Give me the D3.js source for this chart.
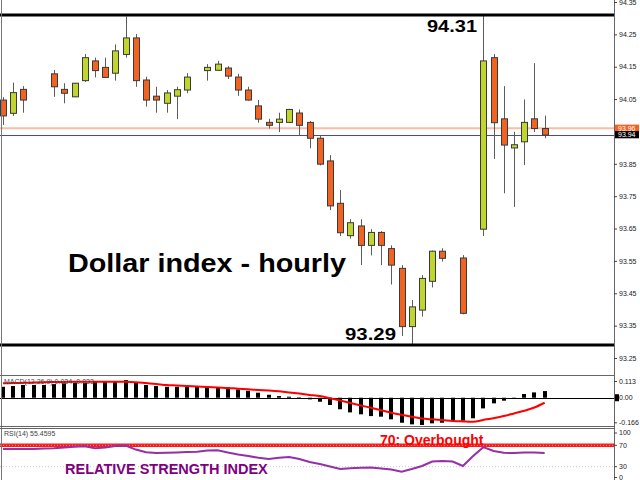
<!DOCTYPE html>
<html><head><meta charset="utf-8">
<script src="https://cdn.jsdelivr.net/npm/d3@7/dist/d3.min.js"></script>
<style>body{margin:0;background:#fff}svg{display:block}</style>
</head><body><svg id="c" width="640" height="480"></svg>
<script>
// ---- data (hourly candles, slot index 0..53; null = no candle drawn) ----
const opens  = [94.047,94.006,94.080,null,null,94.128,94.080,94.057,94.107,94.168,94.148,94.130,94.188,94.239,94.109,94.059,94.037,94.059,94.078,null,94.138,94.139,94.146,94.118,94.078,94.029,93.978,93.978,93.978,94.007,93.978,93.929,93.859,93.728,93.628,93.658,93.598,93.638,93.588,93.527,93.347,93.398,93.487,93.580,null,93.559,null,93.648,94.178,93.989,93.899,93.918,93.989,93.959];
const highs  = [94.056,94.101,94.090,null,null,94.140,94.099,94.100,94.189,94.178,94.178,94.219,94.305,94.251,94.119,94.088,94.078,94.088,94.130,null,94.158,94.168,94.152,94.128,94.088,94.047,93.989,94.008,94.020,94.018,93.982,93.939,93.877,93.769,93.679,93.679,93.648,93.642,93.598,93.537,93.429,93.506,93.582,93.589,null,93.568,null,94.310,94.189,94.090,93.949,94.049,94.161,93.999];
const lows   = [93.970,93.998,94.008,null,null,94.057,94.037,94.056,94.103,94.117,94.115,94.107,94.178,94.088,94.027,94.008,94.008,93.988,94.068,null,94.107,94.137,94.112,94.060,94.045,93.977,93.959,93.948,93.976,93.939,93.898,93.845,93.707,93.627,93.619,93.537,93.567,93.537,93.477,93.318,93.290,93.378,93.468,93.548,null,93.385,null,93.627,93.865,93.759,93.717,93.846,93.948,93.929];
const closes = [93.998,94.070,94.047,null,null,94.088,94.068,94.099,94.178,94.138,94.117,94.199,94.239,94.107,94.047,94.047,94.069,94.079,94.118,null,94.148,94.158,94.121,94.078,94.047,93.988,93.969,93.988,94.018,93.969,93.929,93.849,93.720,93.637,93.668,93.598,93.638,93.598,93.537,93.347,93.408,93.496,93.580,93.558,null,93.388,null,94.168,93.977,93.908,93.909,93.978,93.959,93.939];

const macdHist = [0.074,0.079,0.086,0.086,0.086,0.092,0.097,0.101,0.101,0.113,0.108,0.113,0.119,0.106,0.086,0.079,0.074,0.074,0.074,0.074,0.074,0.070,0.070,0.056,0.047,0.034,0.020,0.011,0.007,0.002,-0.011,-0.027,-0.049,-0.078,-0.099,-0.112,-0.124,-0.128,-0.146,-0.169,-0.180,-0.184,-0.173,-0.169,-0.162,-0.155,-0.139,-0.072,-0.038,-0.020,-0.003,0.025,0.036,0.045];
const macdSignal = [0.097,0.099,0.101,0.103,0.105,0.106,0.107,0.108,0.108,0.108,0.108,0.108,0.108,0.105,0.099,0.093,0.086,0.083,0.079,0.076,0.073,0.069,0.066,0.061,0.057,0.052,0.048,0.043,0.036,0.028,0.019,0.011,-0.004,-0.019,-0.035,-0.052,-0.068,-0.085,-0.101,-0.115,-0.128,-0.140,-0.146,-0.151,-0.157,-0.160,-0.162,-0.150,-0.138,-0.124,-0.106,-0.088,-0.066,-0.034];
const rsi = [63,63,63,63,64,64.6,66,67.2,68,64.4,66,68.7,69.6,62,57,55.6,56,56.7,57.5,58,60.3,60.8,56.5,52.8,50,46.6,44.4,46.6,48.1,44.4,38.8,35,30.4,25.7,27,28,28.5,26.6,24.8,20.7,25.7,31.3,39.7,40.7,39.7,31.3,50,66.5,59.3,56,55.6,56.5,56.4,55.46];

const priceTicks = [94.35,94.25,94.15,94.05,93.85,93.75,93.65,93.55,93.45,93.35,93.25];
const macdTicks = [0.113,0,-0.166];
const macdTickLabels = ["0.113","0.00","-0.166"];
const rsiTicks = [100,70,30,0];
const levels = {high:94.31, low:93.29, bid:93.96, last:93.94, rsiOver:70, rsiLow:30};

// ---- scales ----
const svg = d3.select("#c");
const AX = 614;
const n = opens.length;
const x = d3.scaleLinear().domain([0, n-1]).range([3, 544.66]);
const y = d3.scaleLinear().domain([93.25, 94.35]).range([358, 2]);
const ym = d3.scaleLinear().domain([-0.166, 0.113]).range([422.3, 381]);
const yr = d3.scaleLinear().domain([30, 70]).range([466.7, 445.3]);

const idx = d3.range(n);
const candles = idx.filter(i => opens[i] !== null);

// ---- main panel ----
const main = svg.append("g");
// current price lines
main.append("line").attr("x1",0).attr("x2",AX).attr("y1",y(levels.bid)).attr("y2",y(levels.bid))
  .attr("stroke","#fbbba6").attr("stroke-width",2);
main.append("line").attr("x1",0).attr("x2",AX).attr("y1",Math.round(y(levels.last))+0.5).attr("y2",Math.round(y(levels.last))+0.5)
  .attr("stroke","#4a4a8c").attr("stroke-width",1);

// wicks
main.selectAll("line.wick").data(candles).join("line").attr("class","wick")
  .attr("x1",i=>Math.round(x(i))+0.5).attr("x2",i=>Math.round(x(i))+0.5)
  .attr("y1",i=>y(highs[i])).attr("y2",i=>y(lows[i]))
  .attr("stroke","#5c5c5c").attr("stroke-width",1);
// bodies
main.selectAll("rect.body").data(candles).join("rect").attr("class","body")
  .attr("x",i=>Math.round(x(i))-3+0.5)
  .attr("width",6)
  .attr("y",i=>y(Math.max(opens[i],closes[i])))
  .attr("height",i=>Math.max(1.5, Math.abs(y(opens[i])-y(closes[i]))))
  .attr("fill",i=>closes[i]>=opens[i] ? "#c0d62f" : "#f26322")
  .attr("stroke","#3a3a3a").attr("stroke-width",1);

// thick high/low lines
[levels.high, levels.low].forEach(v=>{
  main.append("line").attr("x1",0).attr("x2",AX).attr("y1",y(v)).attr("y2",y(v))
    .attr("stroke","#000").attr("stroke-width",3);
});

// annotations
main.append("text").attr("x",427).attr("y",32).text("94.31")
  .attr("font-family","Liberation Sans, Arial, sans-serif").attr("font-weight","bold").attr("font-size",17)
  .attr("textLength",50).attr("lengthAdjust","spacingAndGlyphs").attr("fill","#000");
main.append("text").attr("x",345).attr("y",340).text("93.29")
  .attr("font-family","Liberation Sans, Arial, sans-serif").attr("font-weight","bold").attr("font-size",17)
  .attr("textLength",51).attr("lengthAdjust","spacingAndGlyphs").attr("fill","#000");
main.append("text").attr("x",68).attr("y",272).text("Dollar index - hourly")
  .attr("font-family","Liberation Sans, Arial, sans-serif").attr("font-weight","bold").attr("font-size",25)
  .attr("textLength",278).attr("lengthAdjust","spacingAndGlyphs").attr("fill","#000");

// ---- MACD panel ----
const mg = svg.append("g");
mg.append("line").attr("x1",0).attr("x2",AX).attr("y1",Math.round(ym(0))+0.5).attr("y2",Math.round(ym(0))+0.5)
  .attr("stroke","#000").attr("stroke-width",1);
mg.selectAll("rect.hist").data(idx).join("rect").attr("class","hist")
  .attr("x",i=>Math.round(x(i))-2)
  .attr("width",4)
  .attr("y",i=>Math.min(ym(0), ym(macdHist[i])))
  .attr("height",i=>Math.max(0.5, Math.abs(ym(macdHist[i])-ym(0))))
  .attr("fill","#000");
mg.append("path").datum(idx)
  .attr("d", d3.line().x(i=>x(i)).y(i=>ym(macdSignal[i])).curve(d3.curveMonotoneX))
  .attr("fill","none").attr("stroke","#ff0000").attr("stroke-width",2);
mg.append("text").attr("x",4).attr("y",384).text("MACD(12,26,9) 0.034 -0.033")
  .attr("font-family","Liberation Sans, Arial, sans-serif").attr("font-size",7).attr("fill","#444");

// ---- RSI panel ----
const rg = svg.append("g");
rg.append("line").attr("x1",0).attr("x2",AX).attr("y1",yr(levels.rsiLow)).attr("y2",yr(levels.rsiLow))
  .attr("stroke","#c8c8c8").attr("stroke-width",1).attr("stroke-dasharray","1,2");
rg.append("line").attr("x1",0).attr("x2",AX).attr("y1",yr(levels.rsiOver)).attr("y2",yr(levels.rsiOver))
  .attr("stroke","#ff1a1a").attr("stroke-width",3.5);
rg.append("line").attr("x1",0).attr("x2",AX).attr("y1",yr(levels.rsiOver)).attr("y2",yr(levels.rsiOver))
  .attr("stroke","#ff8a8a").attr("stroke-width",1).attr("stroke-dasharray","1,2");
rg.append("path").datum(idx)
  .attr("d", d3.line().x(i=>x(i)).y(i=>yr(rsi[i])))
  .attr("fill","none").attr("stroke","#9530a6").attr("stroke-width",2);
rg.append("text").attr("x",4).attr("y",436).text("RSI(14) 55.4595")
  .attr("font-family","Liberation Sans, Arial, sans-serif").attr("font-size",7).attr("fill","#444");
rg.append("text").attr("x",380).attr("y",445).text("70: Overbought")
  .attr("font-family","Liberation Sans, Arial, sans-serif").attr("font-weight","bold").attr("font-size",14)
  .attr("fill","#ff0000");
rg.append("text").attr("x",65).attr("y",473.5).text("RELATIVE STRENGTH INDEX")
  .attr("font-family","Liberation Sans, Arial, sans-serif").attr("font-weight","bold").attr("font-size",14.5)
  .attr("fill","#800080");

// ---- frame / separators ----
const fr = svg.append("g");
fr.append("line").attr("x1",1.5).attr("x2",1.5).attr("y1",0).attr("y2",480).attr("stroke","#777");
[375.5, 426.5, 428.5].forEach(v=>{
  fr.append("line").attr("x1",0).attr("x2",AX).attr("y1",v).attr("y2",v).attr("stroke","#666").attr("stroke-width",1);
});
fr.append("line").attr("x1",AX+0.5).attr("x2",AX+0.5).attr("y1",0).attr("y2",480).attr("stroke","#666").attr("stroke-width",1);

// ---- axes ----
function styleAxis(g){
  g.select(".domain").remove();
  g.selectAll(".tick line").attr("stroke","#444");
  g.selectAll(".tick text").attr("font-family","Liberation Sans, Arial, sans-serif").attr("font-size",7).attr("fill","#222");
}
svg.append("g").attr("transform",`translate(${AX},0)`)
  .call(d3.axisRight(y).tickValues(priceTicks).tickSize(3).tickPadding(2).tickFormat(d3.format(".2f")))
  .call(styleAxis);
svg.append("g").attr("transform",`translate(${AX},0)`)
  .call(d3.axisRight(ym).tickValues(macdTicks).tickSize(3).tickPadding(2).tickFormat((d,i)=>macdTickLabels[i]))
  .call(styleAxis);
const rax = svg.append("g").attr("transform",`translate(${AX},0)`)
  .call(d3.axisRight(yr).tickValues(rsiTicks).tickSize(3).tickPadding(2).tickFormat(d3.format("d")))
  .call(styleAxis);
// keep RSI scale labels within the panel
rax.selectAll(".tick").attr("transform",d=>`translate(0,${Math.max(433, Math.min(477.5, yr(d)))})`);

// current value tags on the price axis
const tags = [{v:levels.bid, fill:"#f26322"},{v:levels.last, fill:"#000"}];
const tg = svg.append("g");
tg.selectAll("rect").data(tags).join("rect")
  .attr("x",AX+1).attr("width",24).attr("y",d=>y(d.v)-3.6).attr("height",7.2).attr("fill",d=>d.fill);
tg.selectAll("text").data(tags).join("text")
  .attr("x",AX+4).attr("y",d=>y(d.v)+2.5).text(d=>d3.format(".2f")(d.v))
  .attr("font-family","Liberation Sans, Arial, sans-serif").attr("font-size",7).attr("fill","#fff");
// MACD current value marker
svg.append("rect").attr("x",AX+1).attr("y",ym(0)-3.5).attr("width",4).attr("height",7).attr("fill","#000");
</script></body></html>
